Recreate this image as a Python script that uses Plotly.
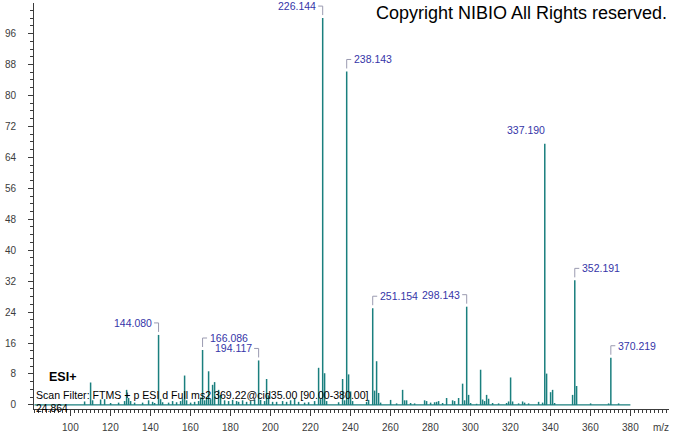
import plotly.graph_objects as go

# ---- data ----
mz = [107.1, 110.1, 111.1, 115.1, 117.1, 120.1, 124.1, 127.1, 128.1, 129.1, 130.1, 132.1,
      136.1, 139.1, 141.1, 142.1, 144.080, 145.1, 146.1, 149.1, 151.1, 153.1, 155.1, 156.1,
      157.1, 158.1, 160.1, 162.1, 164.1, 165.1, 166.086, 167.1, 168.1, 169.1, 170.1, 171.1,
      172.1, 174.1, 175.1, 177.1, 179.1, 181.1, 183.1, 184.1, 186.1, 188.1, 190.1, 192.1,
      194.117, 195.1, 197.1, 198.1, 199.1, 201.1, 203.1, 206.1, 208.1, 210.1, 212.1, 214.1,
      217.1, 219.1, 222.1, 224.1, 225.1, 226.144, 227.1, 228.1, 234.1, 236.1, 237.1, 238.143,
      239.1, 240.1, 241.1, 248.1, 249.1, 251.154, 252.1, 253.1, 254.1, 255.1, 260.1, 263.1,
      266.1, 267.1, 268.1, 270.1, 272.1, 277.1, 278.1, 280.1, 282.1, 283.1, 284.1, 286.1,
      288.1, 291.1, 292.1, 294.1, 296.1, 297.1, 298.143, 299.1, 300.1, 303.1, 305.1, 306.1,
      307.1, 308.1, 309.1, 311.1, 314.1, 318.1, 319.1, 320.1, 321.1, 324.1, 326.1, 327.1,
      329.1, 334.1, 336.1, 337.190, 338.1, 340.1, 341.1, 342.1, 351.1, 352.191, 353.1, 360.1,
      369.1, 370.219, 374.1]
intensity = [0.9, 5.8, 1.2, 1.4, 1.5, 0.5, 0.6, 1.0, 3.9, 1.8, 1.0, 0.6,
             0.6, 1.2, 0.8, 0.5, 18.1, 1.5, 0.7, 0.6, 1.0, 0.7, 1.0, 1.5,
             7.6, 1.2, 0.6, 0.8, 1.0, 1.8, 14.2, 1.2, 2.0, 8.7, 1.5, 5.2,
             5.9, 3.9, 2.6, 1.2, 1.0, 1.3, 1.0, 0.8, 1.2, 0.8, 1.0, 1.4,
             11.5, 1.3, 1.0, 6.7, 2.5, 0.8, 0.8, 1.0, 0.8, 1.2, 1.6, 0.8,
             0.6, 0.7, 1.0, 9.6, 1.5, 100.0, 8.2, 1.0, 0.7, 6.7, 1.2, 86.2,
             7.9, 3.5, 1.0, 0.8, 1.3, 25.0, 3.7, 11.3, 3.1, 0.6, 1.3, 0.4,
             3.9, 1.2, 1.2, 0.5, 0.4, 1.2, 1.0, 0.6, 0.7, 0.8, 1.0, 0.5,
             1.8, 1.2, 1.0, 1.8, 5.5, 1.2, 25.4, 2.6, 0.5, 0.3, 9.1, 1.4,
             1.0, 2.6, 1.6, 0.5, 0.4, 0.5, 0.9, 7.1, 0.9, 0.4, 0.9, 0.6,
             0.4, 0.8, 0.6, 67.5, 8.1, 3.3, 3.9, 0.5, 2.6, 32.2, 4.9, 0.4,
             0.4, 12.2, 0.4]

label_mz = [144.080, 166.086, 194.117, 226.144, 238.143, 251.154, 298.143, 337.190, 352.191, 370.219]
label_int = [18.1, 14.2, 11.5, 100.0, 86.2, 25.0, 25.4, 67.5, 32.2, 12.2]
label_side = ["left", "right", "left", "left", "right", "right", "left", "none", "right", "right"]
label_text = ["144.080", "166.086", "194.117", "226.144", "238.143", "251.154", "298.143", "337.190", "352.191", "370.219"]

scan_range = [82.0, 380.0]
x_range = [81.8, 399.3]
y_range = [-1.05, 103.9]

PEAK = "#1a7f7e"
LBL = "#3535a8"
BRK = "#9a9ab0"
AXC = "#3c3c3c"
FONT = "Liberation Sans, Arial"

# build stick spectrum
xs, ys = [], []
for m, v in zip(mz, intensity):
    xs += [m, m, None]
    ys += [0, v, None]

fig = go.Figure()
fig.add_trace(go.Scatter(x=scan_range, y=[0, 0], mode="lines",
                         line=dict(color=PEAK, width=1.3), hoverinfo="skip"))
fig.add_trace(go.Scatter(x=xs, y=ys, mode="lines",
                         line=dict(color=PEAK, width=1.5), hoverinfo="skip"))

for m, v, side, t in zip(label_mz, label_int, label_side, label_text):
    if side == "left":
        fig.add_annotation(x=m, y=v, xref="x", yref="y", text=t, showarrow=False,
                           xanchor="right", yanchor="middle", xshift=-5, yshift=12,
                           font=dict(family=FONT, size=10.5, color=LBL))
        path = "M0,3 L0,12 L-4.5,12"
    elif side == "right":
        fig.add_annotation(x=m, y=v, xref="x", yref="y", text=t, showarrow=False,
                           xanchor="left", yanchor="middle", xshift=5, yshift=12,
                           font=dict(family=FONT, size=10.5, color=LBL))
        path = "M0,3 L0,12 L4.5,12"
    else:
        fig.add_annotation(x=m, y=v, xref="x", yref="y", text=t, showarrow=False,
                           xanchor="right", yanchor="middle", xshift=2, yshift=14,
                           font=dict(family=FONT, size=10.5, color=LBL))
        path = None
    if path:
        fig.add_shape(type="path", xref="x", yref="y", xsizemode="pixel", ysizemode="pixel",
                      xanchor=m, yanchor=v, path=path,
                      line=dict(color=BRK, width=1))

fig.add_annotation(x=1.0, y=0.976, xref="paper", yref="paper", text="Copyright NIBIO All Rights reserved.",
                   showarrow=False, xanchor="right", yanchor="middle",
                   font=dict(family=FONT, size=18, color="#000000"))
fig.add_annotation(x=0.02, y=0.079, xref="paper", yref="paper", text="<b>ESI+</b>",
                   showarrow=False, xanchor="left", yanchor="middle",
                   font=dict(family=FONT, size=12.5, color="#000000"))
fig.add_annotation(x=0.0, y=0.035, xref="paper", yref="paper",
                   text="Scan Filter: FTMS + p ESI d Full ms2 369.22@cid35.00 [90.00-380.00]",
                   showarrow=False, xanchor="left", yanchor="middle",
                   font=dict(family=FONT, size=10.6, color="#000000"))
fig.add_annotation(x=0.0, y=0.001, xref="paper", yref="paper", text="24.864",
                   showarrow=False, xanchor="left", yanchor="middle",
                   font=dict(family=FONT, size=10.4, color="#000000"))
fig.add_annotation(x=0.987, y=-0.045, xref="paper", yref="paper", text="m/z",
                   showarrow=False, xanchor="center", yanchor="middle",
                   font=dict(family=FONT, size=10, color=AXC))

fig.update_xaxes(range=x_range, tickmode="linear", tick0=0, dtick=20, automargin=False,
                 ticks="outside", ticklen=6, tickcolor=AXC, tickwidth=1,
                 minor=dict(dtick=2, tick0=0, ticks="outside", ticklen=3, tickcolor=AXC),
                 showline=True, linecolor=AXC, linewidth=1, showgrid=False, zeroline=False,
                 ticklabelstandoff=3,
                 tickfont=dict(family=FONT, size=10, color=AXC))
fig.update_yaxes(range=y_range, tickmode="linear", tick0=0, dtick=8, automargin=False,
                 ticks="outside", ticklen=5, tickcolor=AXC, tickwidth=1,
                 minor=dict(dtick=2, tick0=0, ticks="outside", ticklen=3, tickcolor=AXC),
                 showline=True, linecolor=AXC, linewidth=1, showgrid=False, zeroline=False,
                 ticklabelstandoff=10,
                 tickfont=dict(family=FONT, size=10, color=AXC))

fig.update_layout(width=674, height=434, margin=dict(l=34, r=5, t=3, b=25, autoexpand=False),
                  paper_bgcolor="white", plot_bgcolor="white", showlegend=False)

fig.write_html("out.html", config={"displayModeBar": False},
               post_script="document.body.style.margin='0';document.body.style.padding='0';")
